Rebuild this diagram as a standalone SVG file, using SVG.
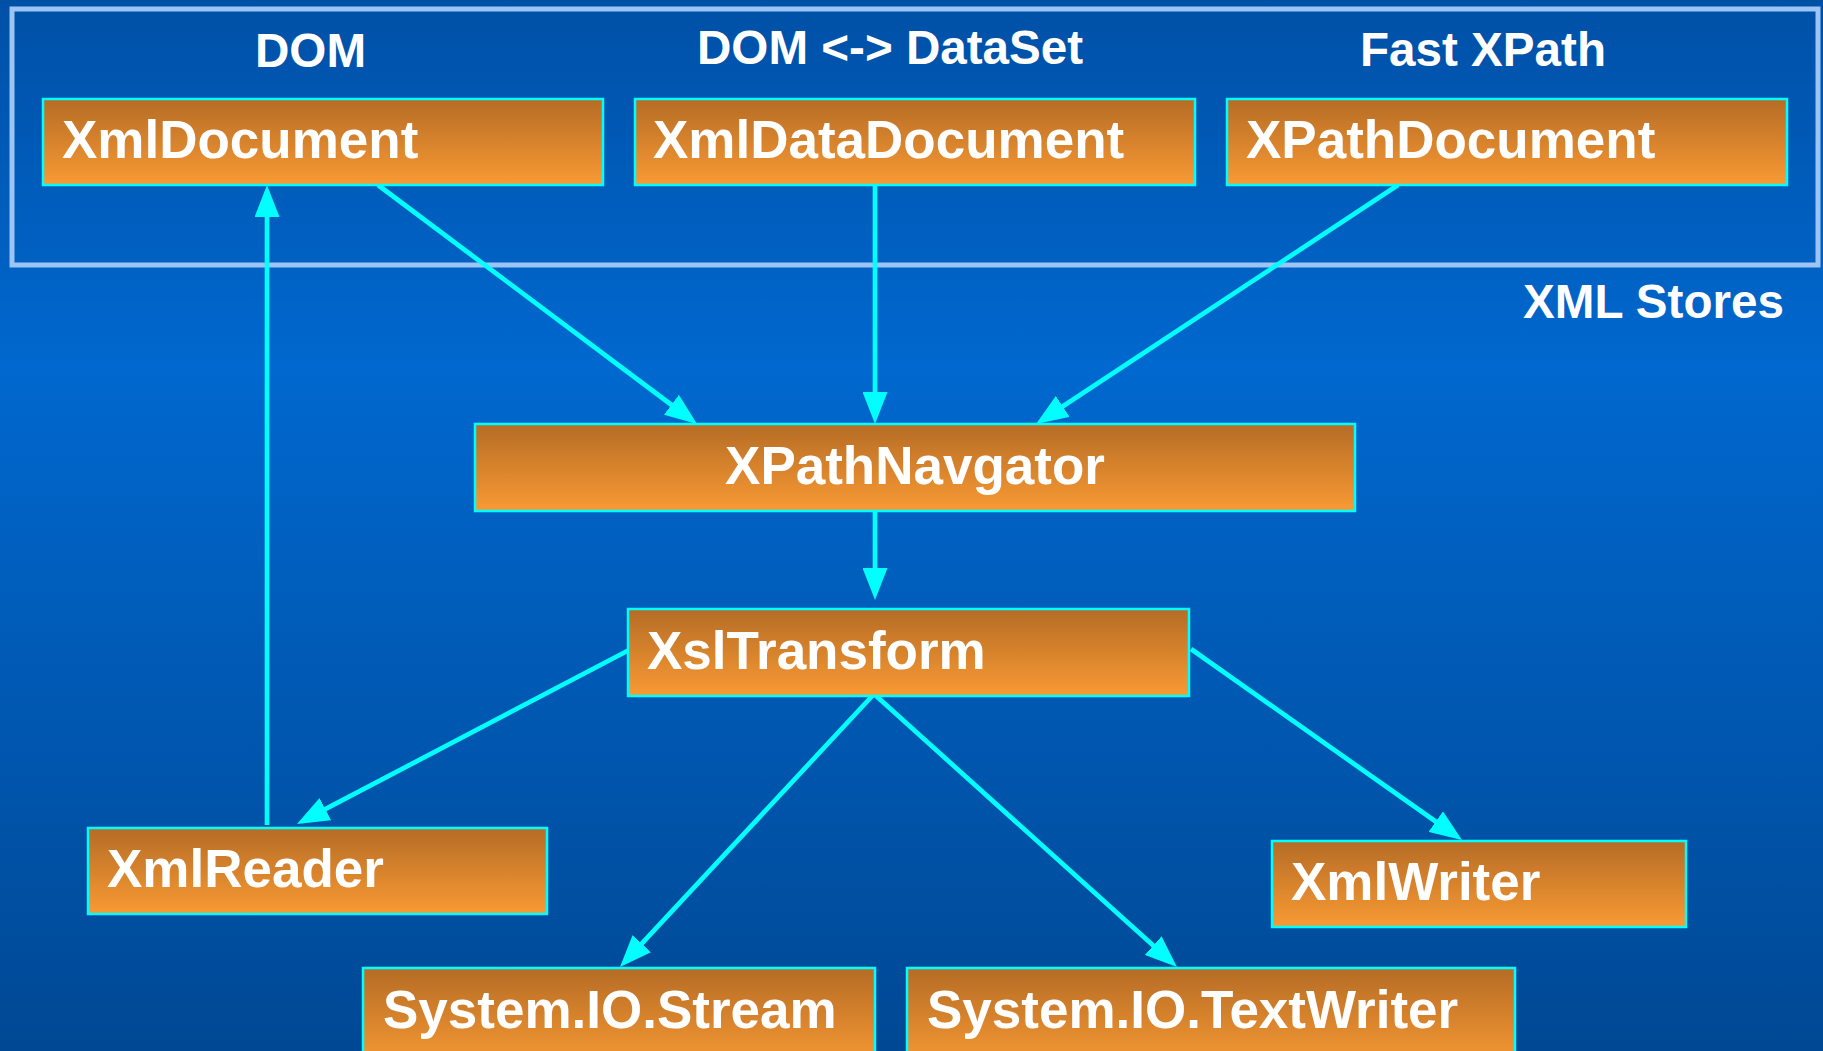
<svg xmlns="http://www.w3.org/2000/svg" width="1823" height="1051" viewBox="0 0 1823 1051">
  <defs>
    <linearGradient id="bg" x1="0" y1="0" x2="0" y2="1">
      <stop offset="0" stop-color="#0050a6"/>
      <stop offset="0.35" stop-color="#0068cf"/>
      <stop offset="1" stop-color="#004894"/>
    </linearGradient>
    <linearGradient id="boxfill" x1="0" y1="0" x2="0" y2="1">
      <stop offset="0" stop-color="#b56c25"/>
      <stop offset="1" stop-color="#f99a34"/>
    </linearGradient>
    <marker id="arrow" markerUnits="userSpaceOnUse" viewBox="0 0 32 25" refX="12" refY="12.5" markerWidth="32" markerHeight="25" orient="auto">
      <path d="M0,0 L32,12.5 L0,25 z" fill="#00ffff"/>
    </marker>
    <style>
      .box { fill: url(#boxfill); stroke: #00ffff; stroke-width: 2.5; }
      .bt { font-family: "Liberation Sans", Arial, sans-serif; font-weight: bold; font-size: 53px; fill: #ffffff; }
      .lbl { font-family: "Liberation Sans", Arial, sans-serif; font-weight: bold; font-size: 47.6px; fill: #ffffff; }
      .conn { stroke: #00ffff; stroke-width: 4.7; fill: none; marker-end: url(#arrow); }
      .frame { fill: none; stroke: #9cc4f4; stroke-width: 5; }
    </style>
  </defs>
  <rect x="0" y="0" width="1823" height="1051" fill="url(#bg)"/>

  <g id="xml-stores">
    <rect class="frame" x="12" y="9" width="1806" height="256"/>
    <text class="lbl" x="255" y="67">DOM</text>
    <text class="lbl" x="697" y="64">DOM &lt;-&gt; DataSet</text>
    <text class="lbl" x="1360" y="66">Fast XPath</text>
    <text class="lbl" x="1523" y="318">XML Stores</text>
  </g>

  <g id="connectors">
    <line class="conn" x1="378" y1="185" x2="681" y2="412"/>
    <line class="conn" x1="875" y1="185" x2="875" y2="404"/>
    <line class="conn" x1="1398" y1="185" x2="1052.7" y2="413"/>
    <line class="conn" x1="875" y1="511" x2="875" y2="580"/>
    <line class="conn" x1="631" y1="649" x2="314.7" y2="814.7"/>
    <line class="conn" x1="267" y1="825" x2="267" y2="205"/>
    <line class="conn" x1="1191" y1="649" x2="1445.6" y2="828.5"/>
    <line class="conn" x1="874" y1="694" x2="633.6" y2="952.4"/>
    <line class="conn" x1="874" y1="694" x2="1162.1" y2="953.6"/>
  </g>

  <g id="XmlDocument">
    <rect class="box" x="43" y="99" width="560" height="86"/>
    <text class="bt" x="62" y="158">XmlDocument</text>
  </g>
  <g id="XmlDataDocument">
    <rect class="box" x="635" y="99" width="560" height="86"/>
    <text class="bt" x="653" y="158">XmlDataDocument</text>
  </g>
  <g id="XPathDocument">
    <rect class="box" x="1227" y="99" width="560" height="86"/>
    <text class="bt" x="1246" y="158">XPathDocument</text>
  </g>
  <g id="XPathNavgator">
    <rect class="box" x="475" y="424" width="880" height="87"/>
    <text class="bt" x="915" y="484" text-anchor="middle">XPathNavgator</text>
  </g>
  <g id="XslTransform">
    <rect class="box" x="628" y="609" width="561" height="87"/>
    <text class="bt" x="647" y="669">XslTransform</text>
  </g>
  <g id="XmlReader">
    <rect class="box" x="88" y="828" width="459" height="86"/>
    <text class="bt" x="107" y="887">XmlReader</text>
  </g>
  <g id="XmlWriter">
    <rect class="box" x="1272" y="841" width="414" height="86"/>
    <text class="bt" x="1291" y="900">XmlWriter</text>
  </g>
  <g id="SystemIOStream">
    <rect class="box" x="363" y="968" width="512" height="100"/>
    <text class="bt" x="383" y="1028">System.IO.Stream</text>
  </g>
  <g id="SystemIOTextWriter">
    <rect class="box" x="907" y="968" width="608" height="100"/>
    <text class="bt" x="927" y="1028">System.IO.TextWriter</text>
  </g>
</svg>
